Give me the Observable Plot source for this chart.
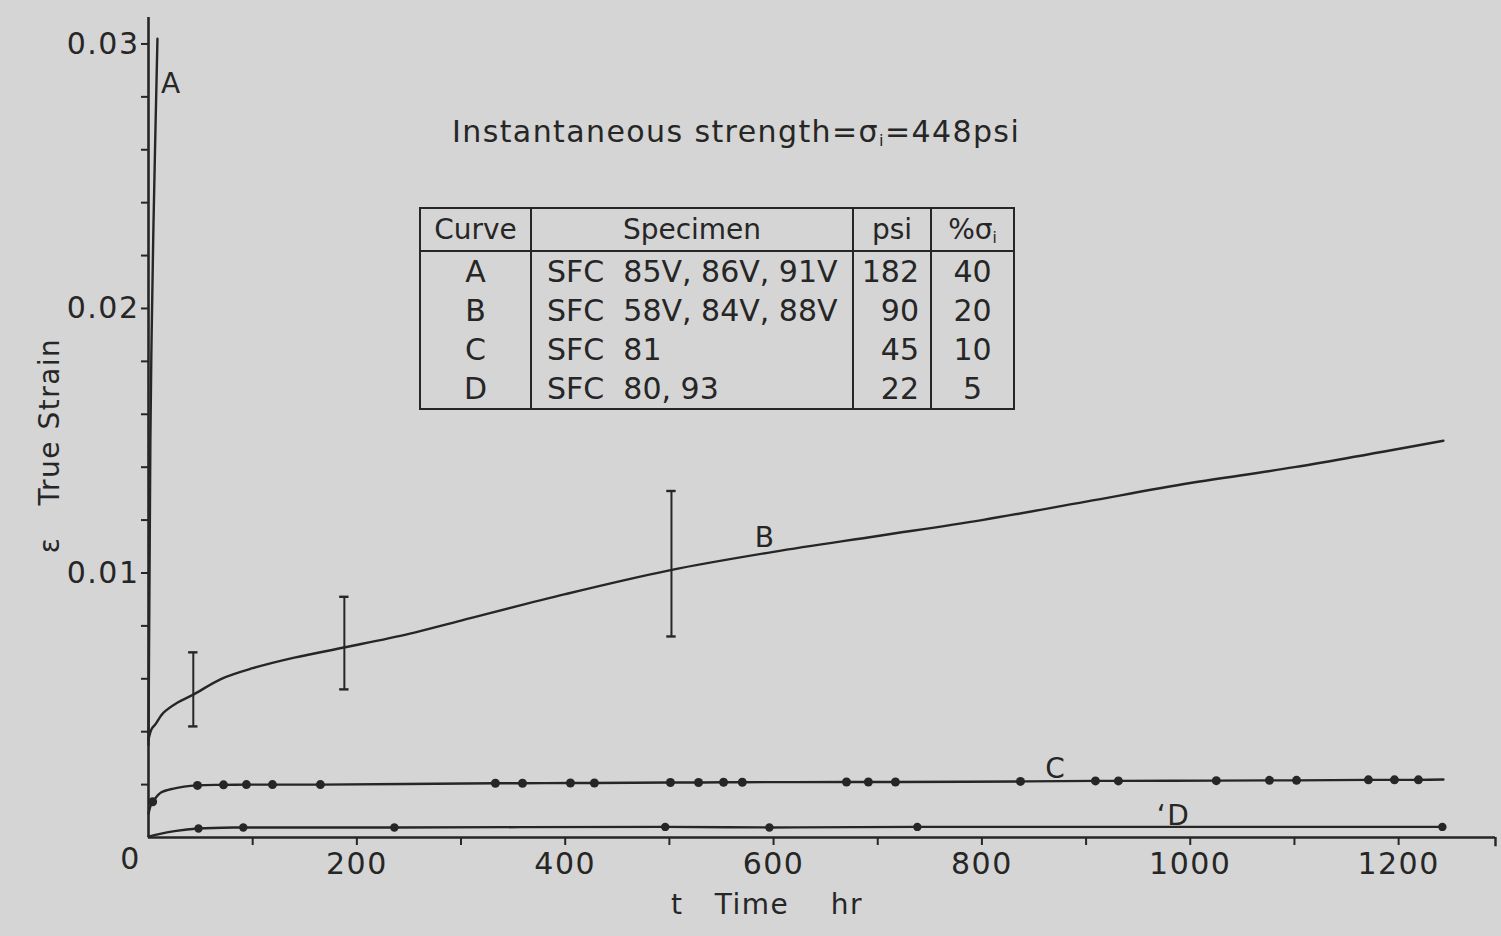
<!DOCTYPE html>
<html>
<head>
<meta charset="utf-8">
<script src="https://cdn.jsdelivr.net/npm/d3@7"></script>
<script src="https://cdn.jsdelivr.net/npm/@observablehq/plot@0.6"></script>
<style>
html,body{margin:0;padding:0;background:#d4d5d4;}
#wrap{position:relative;width:1501px;height:936px;overflow:hidden;font-family:"DejaVu Sans",sans-serif;color:#262626;}
#wrap svg{position:absolute;left:0;top:0;}
#wrap svg text{letter-spacing:1.5px;}
#title{position:absolute;left:452px;top:117px;font-size:30px;line-height:1;letter-spacing:1.4px;white-space:nowrap;}
#title sub,#tbl sub{font-size:0.55em;vertical-align:-0.25em;}
#tbl{position:absolute;left:419px;top:207px;border-collapse:collapse;table-layout:fixed;width:594px;border:2.5px solid #262626;}
#tbl th{font-weight:normal;font-size:28px;height:41px;border:2.5px solid #262626;padding:0;text-align:center;}
#tbl td{font-size:30px;height:39px;padding:0;border-left:2.5px solid #262626;border-right:2.5px solid #262626;line-height:1;white-space:pre;}
#tbl td.c0{text-align:center;}
#tbl td.c1{text-align:left;padding-left:15px;}
#tbl td.c2{text-align:right;padding-right:11px;}
#tbl td.c3{text-align:center;}
</style>
</head>
<body>
<div id="wrap">
  <div id="title">Instantaneous strength=σ<sub>i</sub>=448psi</div>
  <table id="tbl">
    <colgroup><col style="width:111px"><col style="width:322px"><col style="width:78px"><col style="width:83px"></colgroup>
    <thead><tr><th>Curve</th><th>Specimen</th><th>psi</th><th>%σ<sub>i</sub></th></tr></thead>
    <tbody id="tbody"></tbody>
  </table>
</div>
<script>
// ---- Table data ----
const tableCurve = ["A", "B", "C", "D"];
const tableSpecimen = ["SFC  85V, 86V, 91V", "SFC  58V, 84V, 88V", "SFC  81", "SFC  80, 93"];
const tablePsi = [182, 90, 45, 22];
const tablePct = [40, 20, 10, 5];

// ---- Axis ticks ----
const xTicks = [100, 200, 300, 400, 500, 600, 700, 800, 900, 1000, 1100, 1200];
const xTickLabels = ["", "200", "", "400", "", "600", "", "800", "", "1000", "", "1200"];
const yTicks = [0.002, 0.004, 0.006, 0.008, 0.010, 0.012, 0.014, 0.016, 0.018, 0.020, 0.022, 0.024, 0.026, 0.028, 0.030];
const yTickLabels = ["", "", "", "", "0.01", "", "", "", "", "0.02", "", "", "", "", "0.03"];

// ---- Curve A (40% σi) ----
const aTime = [0, 0.5, 1, 1.8, 3, 4.8, 6.7, 8.6];
const aStrain = [0.0035, 0.007, 0.010, 0.015, 0.019, 0.0232, 0.0268, 0.0302];

// ---- Curve B (20% σi) ----
const bTime = [0, 3, 7, 14, 28, 43, 70, 100, 140, 190, 250, 300, 400, 500, 600, 700, 800, 900, 1000, 1100, 1243];
const bStrain = [0.0037, 0.0041, 0.0043, 0.0047, 0.0051, 0.0054, 0.0060, 0.0064, 0.0068, 0.0072, 0.0077, 0.0082, 0.0092, 0.0101, 0.0108, 0.0114, 0.0120, 0.0127, 0.0134, 0.0140, 0.0150];
// error bars on B
const ebTime = [43, 188, 502];
const ebLow = [0.0042, 0.0056, 0.0076];
const ebHigh = [0.0070, 0.0091, 0.0131];

// ---- Curve C (10% σi) ----
const cStartTime = [0, 2, 5, 12, 24];
const cStartStrain = [0.0009, 0.0012, 0.0014, 0.0017, 0.00185];
const cDotTime = [4, 47, 72, 94, 119, 165, 333, 359, 405, 428, 501, 528, 552, 570, 670, 691, 717, 837, 909, 931, 1025, 1076, 1102, 1171, 1196, 1219];
const cDotStrain = [0.00135, 0.00197, 0.00199, 0.0020, 0.0020, 0.0020, 0.00205, 0.00205, 0.00206, 0.00206, 0.00208, 0.00208, 0.00209, 0.00209, 0.0021, 0.0021, 0.0021, 0.00212, 0.00214, 0.00214, 0.00215, 0.00216, 0.00216, 0.00218, 0.00218, 0.00218];
const cEndTime = [1243];
const cEndStrain = [0.00219];

// ---- Curve D (5% σi) ----
const dStartTime = [0, 10, 25];
const dStartStrain = [0.00003, 0.00013, 0.00024];
const dDotTime = [48, 91, 236, 496, 596, 738, 1242];
const dDotStrain = [0.00034, 0.00038, 0.00038, 0.0004, 0.00038, 0.0004, 0.0004];

// ---- Curve labels ----
const labelText = ["A", "B", "C", "\u2018D"];
const labelTime = [22, 592, 871, 984];
const labelStrain = [0.0285, 0.01134, 0.0026, 0.00083];

// build table
const tbody = document.getElementById("tbody");
tableCurve.forEach((c, i) => {
  const tr = document.createElement("tr");
  [[c, "c0"], [tableSpecimen[i], "c1"], [String(tablePsi[i]), "c2"], [String(tablePct[i]), "c3"]].forEach(([t, cls]) => {
    const td = document.createElement("td");
    td.className = cls; td.textContent = t; tr.appendChild(td);
  });
  tbody.appendChild(tr);
});

const zip = (ts, ss) => ts.map((t, i) => ({t, s: ss[i]}));
const aData = zip(aTime, aStrain);
const bData = zip(bTime, bStrain);
const cDots = zip(cDotTime, cDotStrain);
const cLine = zip(cStartTime, cStartStrain).concat(cDots.slice(1), zip(cEndTime, cEndStrain));
const dDots = zip(dDotTime, dDotStrain);
const dLine = zip(dStartTime, dStartStrain).concat(dDots);
const ebData = ebTime.map((t, i) => ({t, lo: ebLow[i], hi: ebHigh[i]}));
const labels = labelText.map((text, i) => ({text, t: labelTime[i], s: labelStrain[i]}));

const ink = "#262626";
const xMax = 1293, yMax = 0.031;

const chart = Plot.plot({
  width: 1501, height: 936,
  marginLeft: 148, marginRight: 6, marginTop: 17, marginBottom: 99,
  style: {background: "transparent", fontFamily: "DejaVu Sans, sans-serif", fontSize: "28px", color: ink, overflow: "visible"},
  x: {domain: [0, xMax], axis: null},
  y: {domain: [0, yMax], axis: null},
  marks: [
    Plot.axisX(xTicks, {tickSize: 8, tickPadding: 7, tickFormat: d => xTickLabels[xTicks.indexOf(d)], fontSize: 30, strokeWidth: 2, label: null}),
    Plot.axisY(yTicks, {tickSize: 7, tickPadding: 2, tickFormat: d => yTickLabels[yTicks.indexOf(d)], fontSize: 30, strokeWidth: 2, label: null}),
    Plot.ruleY([0], {x1: 0, x2: xMax, stroke: ink, strokeWidth: 2.6}),
    Plot.ruleX([0], {y1: 0, y2: yMax, stroke: ink, strokeWidth: 2.6}),
    Plot.ruleX([xMax], {y1: 0, y2: -0.00035, stroke: ink, strokeWidth: 2.4}),
    Plot.text([0], {x: d => d, y: 0, text: () => "0", dx: -18, dy: 22, fontSize: 30}),
    Plot.line(aData, {x: "t", y: "s", curve: "monotone-x", stroke: ink, strokeWidth: 2.4}),
    Plot.line(bData, {x: "t", y: "s", curve: "catmull-rom", stroke: ink, strokeWidth: 2.4}),
    Plot.line(cLine, {x: "t", y: "s", curve: "catmull-rom", stroke: ink, strokeWidth: 2.4}),
    Plot.line(dLine, {x: "t", y: "s", curve: "catmull-rom", stroke: ink, strokeWidth: 2.4}),
    Plot.ruleX(ebData, {x: "t", y1: "lo", y2: "hi", stroke: ink, strokeWidth: 2}),
    Plot.ruleY(ebData, {y: "lo", x1: d => d.t - 4.5, x2: d => d.t + 4.5, stroke: ink, strokeWidth: 2.4}),
    Plot.ruleY(ebData, {y: "hi", x1: d => d.t - 4.5, x2: d => d.t + 4.5, stroke: ink, strokeWidth: 2.4}),
    Plot.dot(cDots, {x: "t", y: "s", r: 4.5, fill: ink, stroke: null}),
    Plot.dot(dDots, {x: "t", y: "s", r: 4.2, fill: ink, stroke: null}),
    Plot.text(labels, {x: "t", y: "s", text: "text", fontSize: 28, fill: ink}),
    Plot.text(["\u03b5\u00a0\u00a0\u00a0True Strain"], {frameAnchor: "left", textAnchor: "middle", dx: -98, dy: 18, rotate: -90, fontSize: 28, fill: ink}),
    Plot.text(["t\u00a0\u00a0\u00a0Time\u00a0\u00a0\u00a0\u00a0hr"], {frameAnchor: "bottom", textAnchor: "middle", dx: -55, dy: 76, fontSize: 28, fill: ink})
  ]
});
document.getElementById("wrap").prepend(chart);
</script>
</body>
</html>
